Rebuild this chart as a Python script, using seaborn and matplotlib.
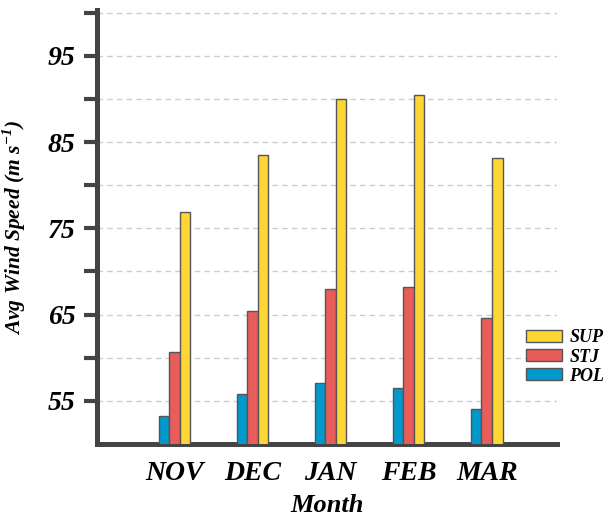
import matplotlib
matplotlib.use("Agg")
import matplotlib.pyplot as plt
import seaborn as sns
import pandas as pd

months = ["NOV", "DEC", "JAN", "FEB", "MAR"]
series = ["POL", "STJ", "SUP"]
pol = [53.3, 55.8, 57.1, 56.5, 54.0]
stj = [60.7, 65.4, 68.0, 68.2, 64.6]
sup = [76.9, 83.5, 90.0, 90.4, 83.1]
colors = {"POL": "#0099CC", "STJ": "#E85C5A", "SUP": "#FDD535"}

rows = []
for s, vals in zip(series, [pol, stj, sup]):
    for m, v in zip(months, vals):
        rows.append({"Month": m, "Series": s, "Value": v})
df = pd.DataFrame(rows)

sns.set_style("white")
font = "Liberation Serif"
plt.rcParams["font.family"] = [font, "DejaVu Serif"]
plt.rcParams["text.color"] = "black"
plt.rcParams["axes.labelcolor"] = "black"
plt.rcParams["xtick.color"] = "black"
plt.rcParams["ytick.color"] = "black"

fig = plt.figure(figsize=(6.09, 5.16), dpi=100)
ax = fig.add_axes([97/609, 1-444/516, (557-97)/609, (444-10)/516])

sns.barplot(data=df, x="Month", y="Value", hue="Series", order=months,
            hue_order=series, palette=colors, width=0.405, ax=ax,
            saturation=1, edgecolor="#555555", linewidth=1.0,
            errorbar=None, zorder=3)

ax.set_ylim(50, 100.3)
ax.set_xlim(-0.99, 4.9)
yt = list(range(55, 101, 5))
ax.set_yticks(yt)
ax.set_yticklabels([str(v) if v % 10 == 5 else "" for v in yt])
ax.yaxis.grid(True, linestyle=(0, (4, 3)), color="#cccccc", linewidth=1.0, zorder=0)
ax.set_axisbelow(True)

for side in ["top", "right"]:
    ax.spines[side].set_visible(False)
for side in ["left", "bottom"]:
    ax.spines[side].set_linewidth(3.6)
    ax.spines[side].set_color("#444444")

ax.tick_params(axis="y", length=9.5, width=3, color="#444444", pad=6,
               labelsize=20, left=True, labelcolor="black")
ax.tick_params(axis="x", length=0, pad=12, labelsize=20, labelcolor="black")
for lab in ax.get_yticklabels() + ax.get_xticklabels():
    lab.set_fontweight("bold")
    lab.set_fontstyle("italic")

ax.set_ylabel("Avg Wind Speed (m s$^{\\mathregular{-1}}$)", fontsize=15.5,
              fontweight="bold", fontstyle="italic", labelpad=14, color="black")
ax.set_xlabel("Month", fontsize=19, fontweight="bold", fontstyle="italic",
              labelpad=6, color="black")

handles, labels = ax.get_legend_handles_labels()
leg = ax.legend(handles[::-1], labels[::-1], loc="center left",
                bbox_to_anchor=(526/609, 1-357/516), bbox_transform=fig.transFigure,
                frameon=False, borderpad=0, borderaxespad=0,
                handlelength=2.0, handleheight=0.62, labelspacing=0.12,
                handletextpad=0.4,
                prop={"family": font, "weight": "bold", "style": "italic", "size": 13})
for t in leg.get_texts():
    t.set_color("black")

fig.savefig("out.png", dpi=100)
